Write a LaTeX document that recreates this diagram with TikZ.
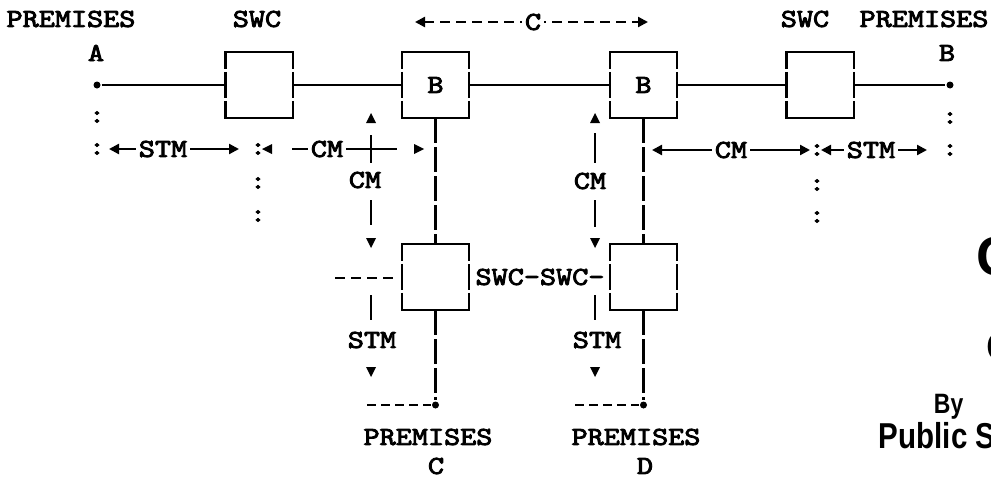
\documentclass[tikz,border=0pt]{standalone}
\usepackage{fontspec}
\usetikzlibrary{arrows.meta}
\newfontfamily\hv{Liberation Sans}
\newfontfamily\tw{lmmono10-regular}[Extension=.otf,FakeBold=3]
\newcommand\swb[3]{%
  \node[swbox] (#1) at (#2) {#3};
  \draw[line cap=rect] (#1.north west) -- (#1.north east);
  \draw[line cap=rect] (#1.south west) -- (#1.south east);
  \draw[sidedash] (#1.north west) -- (#1.south west);
  \draw[sidedash] (#1.north east) -- (#1.south east);
}
\begin{document}
\begin{tikzpicture}[x=1pt,y=-1pt,line width=2.3pt,
  twf/.style={font=\tw\fontsize{26}{26}\selectfont},
  tw/.style={twf,inner sep=0pt,xscale=1.18},
  lbl/.style={tw,fill=white,inner xsep=2.5pt,inner ysep=1pt},
  swbox/.style={twf,inner sep=0pt,minimum width=65pt,minimum height=64pt},
  sidedash/.style={dash pattern=on 17pt off 3pt on 26pt off 3pt on 40pt off 0pt},
  pdot/.style={circle,fill,inner sep=0pt,minimum size=7pt},
  darr/.style={{Triangle[length=10pt,width=10pt]}-{Triangle[length=10pt,width=10pt]}},
  dsh/.style={dash pattern=on 10pt off 6pt},
  vd/.style={dash pattern=on 25pt off 4pt},
  shortdash/.style={dash pattern=on 9pt off 5pt},
  tu/.pic={\fill (0,-5) -- (5,5) -- (-5,5) -- cycle;},
  td/.pic={\fill (0,5) -- (5,-5) -- (-5,-5) -- cycle;},
  tl/.pic={\fill (-5,0) -- (5,-5) -- (5,5) -- cycle;},
  tr/.pic={\fill (5,0) -- (-5,-5) -- (-5,5) -- cycle;},
  hvtext/.style={inner sep=0pt,xscale=0.82}
]
\useasboundingbox (0,0) rectangle (991,479);
% top labels
\node[tw] (premA) at (71,19) {PREMISES};
\node[tw] (swcLt) at (257,19) {SWC};
\node[tw] (swcRt) at (805,19) {SWC};
\node[tw] (premB) at (924,19) {PREMISES};
\node[tw] (lA) at (96,53) {A};
\node[tw] (lB) at (947,53) {B};
% C arrow
\coordinate (cL) at (415,22);
\coordinate (cR) at (648,22);
\draw[darr,dsh] (cL) -- (cR);
\node[lbl] (lC) at (533,22) {C};
% boxes
\swb{swcL}{259,85}{}
\swb{bA}{435.5,85}{\scalebox{1.18}[1]{B}}
\swb{bB}{643.5,85}{\scalebox{1.18}[1]{B}}
\swb{swcR}{820,85}{}
\swb{lowL}{435.5,277}{}
\swb{lowR}{643.5,277}{}
% dots
\node[pdot] (dA) at (97,85) {};
\node[pdot] (dB) at (950,85) {};
\node[pdot] (dC) at (435.5,405) {};
\node[pdot] (dD) at (643.5,405) {};
% main line
\draw (dA) -- (swcL.west);
\draw (swcL.east) -- (bA.west);
\draw (bA.east) -- (bB.west);
\draw (bB.east) -- (swcR.west);
\draw (swcR.east) -- (dB);
% verticals
\draw[vd] (bA.south) -- (lowL.north);
\draw[vd] (lowL.south) -- (dC);
\draw[vd] (bB.south) -- (lowR.north);
\draw[vd] (lowR.south) -- (dD);
% colons
\foreach \p [count=\i] in {{97,117},{97,149},{258,149},{258,183},{258,216},{817,150},{817,185},{817,217},{950,118},{950,150}}
  \node[tw] (col\i) at (\p) {:};
% STM left
\coordinate (s1a) at (109,149);
\coordinate (s1b) at (239,149);
\draw[darr] (s1a) -- (s1b);
\node[lbl] (stmA) at (163,149) {STM};
% CM left horizontal
\pic at (267,149) {tl};
\coordinate (cm1a) at (292,149);
\coordinate (cm1b) at (397,149);
\draw (cm1a) -- (cm1b);
\node[lbl] (cmA) at (327,149) {CM};
\pic at (419,149) {tr};
% left vertical CM / STM
\pic at (371,118) {tu};
\coordinate (v1a) at (371,135);
\coordinate (v1b) at (371,163);
\draw (v1a) -- (v1b);
\node[tw] (cmB) at (365,180) {CM};
\coordinate (v2a) at (371,200);
\coordinate (v2b) at (371,225);
\draw (v2a) -- (v2b);
\pic at (371,243) {td};
\coordinate (hl1) at (335,278);
\coordinate (hl2) at (393,278);
\draw[dash pattern=on 10pt off 6pt] (hl1) -- (hl2);
\coordinate (v3a) at (371,295);
\coordinate (v3b) at (371,320);
\draw (v3a) -- (v3b);
\node[tw] (stmB) at (372,340) {STM};
\pic at (371,372) {td};
\coordinate (pc) at (367,405);
\draw[shortdash] (pc) -- (dC);
% right vertical CM / STM
\pic at (595,118) {tu};
\coordinate (w1a) at (595,133);
\coordinate (w1b) at (595,163);
\draw (w1a) -- (w1b);
\node[tw] (cmC) at (590,181) {CM};
\coordinate (w2a) at (595,200);
\coordinate (w2b) at (595,227);
\draw (w2a) -- (w2b);
\pic at (595,243) {td};
\coordinate (w3a) at (595,295);
\coordinate (w3b) at (595,320);
\draw (w3a) -- (w3b);
\node[tw] (stmC) at (597,340) {STM};
\pic at (595,372) {td};
\coordinate (pd) at (575,405);
\draw[shortdash] (pd) -- (dD);
% SWC-SWC-
\node[tw] (sws) at (540,277) {SWC-SWC-};
% right row
\coordinate (r1a) at (652,150);
\coordinate (r1b) at (810,150);
\draw[darr] (r1a) -- (r1b);
\node[lbl] (cmD) at (731,150) {CM};
\coordinate (r2a) at (821,150);
\coordinate (r2b) at (927,150);
\draw[darr] (r2a) -- (r2b);
\node[lbl] (stmD) at (871,150) {STM};
% bottom labels
\node[tw] (premC) at (428,437) {PREMISES};
\node[tw] (lCC) at (436,466) {C};
\node[tw] (premD) at (636,437) {PREMISES};
\node[tw] (lD) at (645,466) {D};
% partial text at right edge
\begin{scope}
\clip (0,0) rectangle (991,479);
\node[inner sep=0pt,anchor=west,font=\hv\bfseries\fontsize{55}{55}\selectfont] (bigC) at (975,257) {C};
\node[inner sep=0pt,anchor=west,font=\hv\bfseries\fontsize{42}{42}\selectfont] (bigO) at (985,347) {C};
\node[hvtext,anchor=base west,font=\hv\bfseries\fontsize{28}{28}\selectfont] (by) at (933,413) {By};
\node[hvtext,anchor=base west,font=\hv\bfseries\fontsize{36}{36}\selectfont] (pub) at (878,448) {Public S};
\end{scope}
\end{tikzpicture}
\end{document}
